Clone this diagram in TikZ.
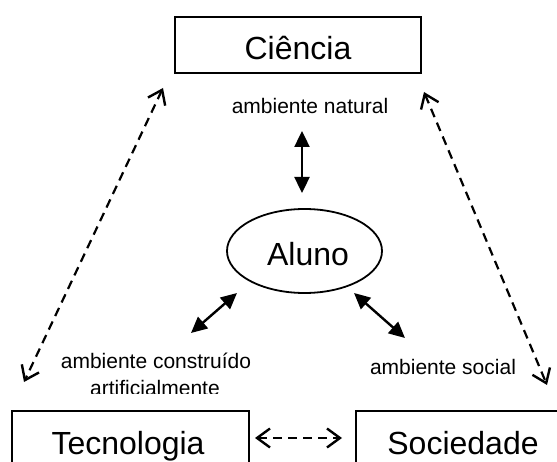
\documentclass[tikz,border=0pt]{standalone}
\usepackage{fontspec}
\setmainfont{Liberation Sans}
\usetikzlibrary{arrows.meta,shapes.geometric}
\begin{document}
\begin{tikzpicture}[x=1pt,y=-1pt,
  bigbox/.style={draw,line width=1.8pt,inner sep=0pt},
  bigtxt/.style={font=\fontsize{32}{38}\selectfont,inner sep=0pt,anchor=base},
  smalltxt/.style={font=\fontsize{21}{24}\selectfont,inner sep=0pt,anchor=base},
  solidlink/.style={line width=2.4pt,{Triangle[length=16pt,width=15pt]}-{Triangle[length=16pt,width=15pt]}},
  dashlink/.style={line width=2.2pt,dash pattern=on 9pt off 6pt,{Straight Barb[length=13pt,width=19pt,line width=2.4pt]}-{Straight Barb[length=13pt,width=19pt,line width=2.4pt]}}
]
\clip (0,0) rectangle (557,462);
\fill[white] (0,0) rectangle (557,462);
% boxes
\node[bigbox,minimum width=246pt,minimum height=56pt] (cien) at (298,45) {};
\node[bigtxt] (cient) at (298,60) {Ciência};
\node[bigbox,minimum width=237pt,minimum height=62pt] (tec) at (130.5,442) {};
\node[bigtxt] (tect) at (128,454) {Tecnologia};
\node[bigbox,minimum width=214pt,minimum height=62pt] (soc) at (463,442) {};
\node[bigtxt] (soct) at (463,454) {Sociedade};
\node[draw,ellipse,line width=1.8pt,inner sep=0pt,minimum width=155pt,minimum height=84pt] (aluno) at (304.5,251) {};
\node[bigtxt] (alunot) at (308,266) {Aluno};
% labels
\node[smalltxt] (nat) at (310,114) {ambiente natural};
\node[smalltxt] (socl) at (443,374) {ambiente social};
\node[smalltxt] (art1) at (156,369) {ambiente construído};
\begin{scope}
\clip (0,0) rectangle (557,393);
\node[smalltxt] (art2) at (155,395) {artificialmente};
\end{scope}
% tip coordinates
\coordinate (natA) at (302,131);
\coordinate (natB) at (302,193);
\coordinate (artA) at (237,293);
\coordinate (artB) at (191,333);
\coordinate (socA) at (354,293);
\coordinate (socB) at (405,338);
\coordinate (lt) at (163,88);
\coordinate (lb) at (24,382);
\coordinate (rt) at (424,92);
\coordinate (rb) at (547,385);
\coordinate (hl) at (255,438);
\coordinate (hr) at (342,438);
% connectors
\draw[solidlink] (natA) -- (natB);
\draw[solidlink] (artA) -- (artB);
\draw[solidlink] (socA) -- (socB);
\draw[dashlink] (lt) -- (lb);
\draw[dashlink] (rt) -- (rb);
\draw[dashlink] (hl) -- (hr);
\end{tikzpicture}
\end{document}
